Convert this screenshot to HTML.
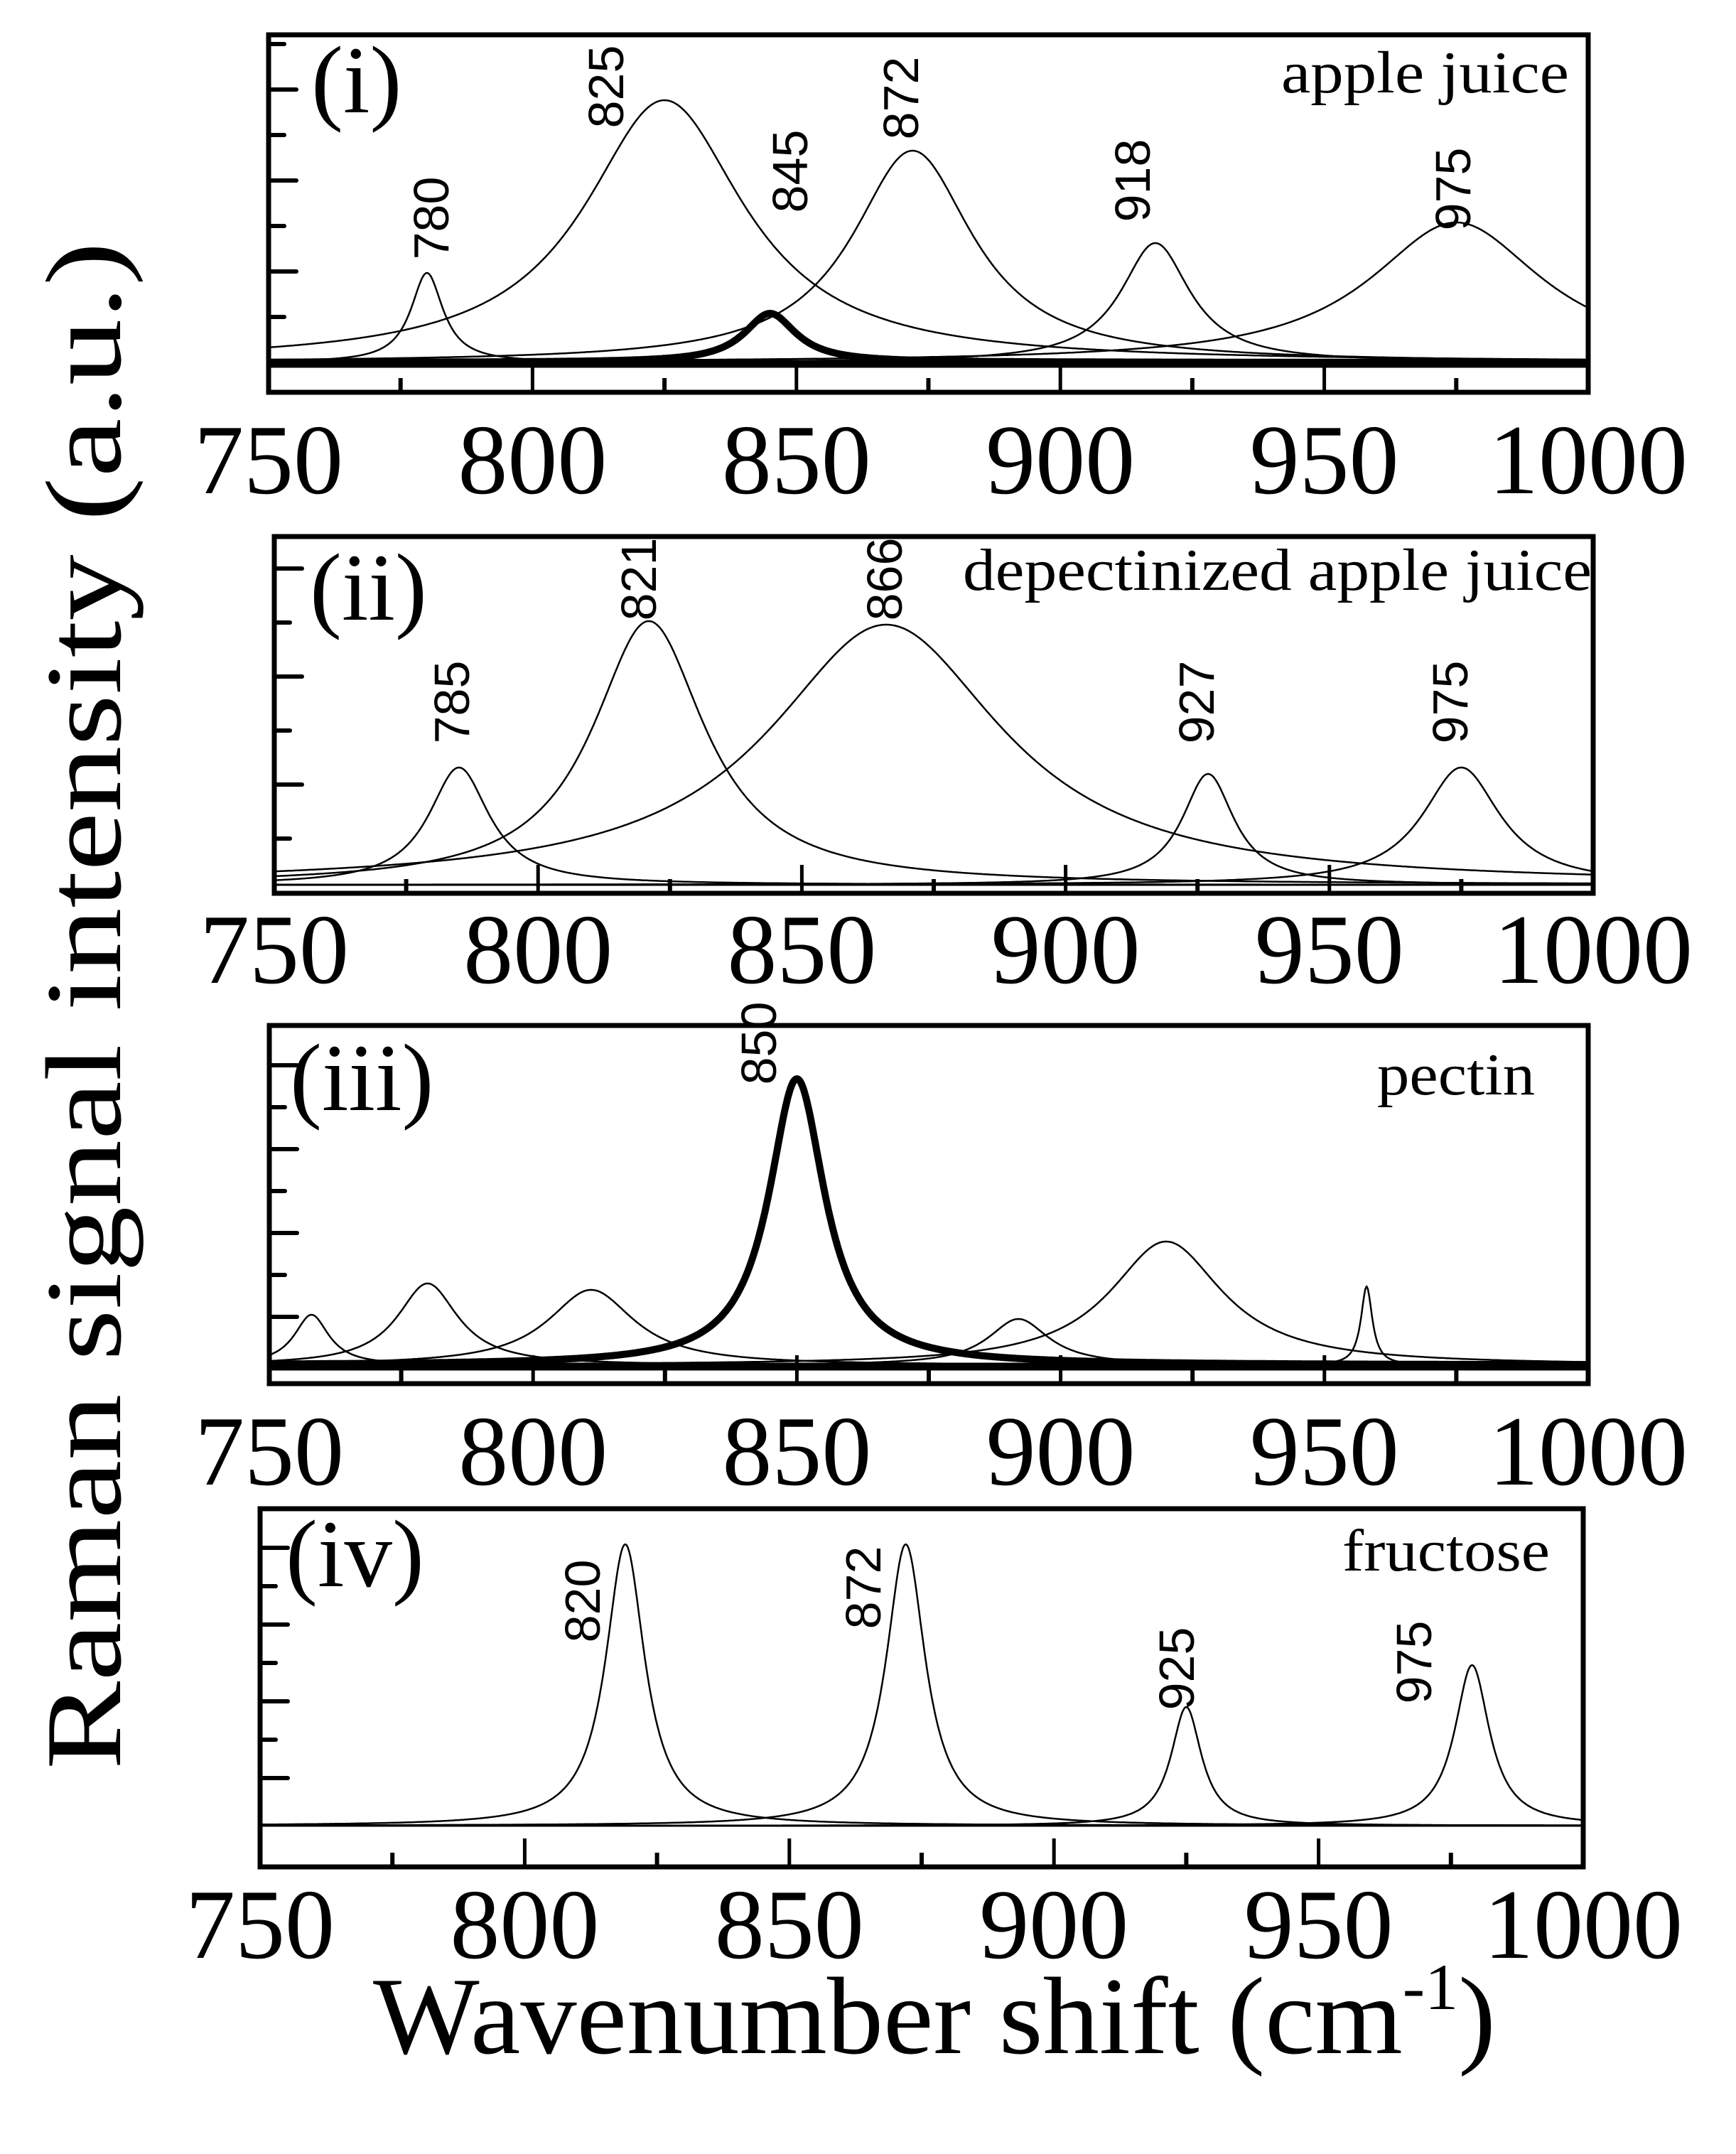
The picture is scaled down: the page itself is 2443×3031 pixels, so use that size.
<!DOCTYPE html>
<html><head><meta charset="utf-8">
<style>html,body{margin:0;padding:0;background:#fff}svg{display:block}</style>
</head><body>
<svg id="s" xmlns="http://www.w3.org/2000/svg" width="2443" height="3031" viewBox="0 0 2443 3031">
<rect width="2443" height="3031" fill="#fff"/>
<g id="g" fill="none" stroke="#000"></g>
<g font-family="'Liberation Serif', serif" fill="#000">
<text x="118" y="1415" font-size="152" text-anchor="middle" transform="rotate(-90 118 1415)" dominant-baseline="central" textLength="2150" lengthAdjust="spacingAndGlyphs">Raman signal intensity (a.u.)</text>
<text x="525" y="2889" font-size="155" textLength="1580" lengthAdjust="spacingAndGlyphs">Wavenumber shift (cm<tspan dy="-62" font-size="92">-1</tspan><tspan dy="62">)</tspan></text>
<text x="438" y="158" font-size="135">(i)</text>
<text x="2208" y="130" font-size="84" text-anchor="end" textLength="405" lengthAdjust="spacingAndGlyphs">apple juice</text>
<text x="436" y="872" font-size="135">(ii)</text>
<text x="2240" y="830" font-size="84" text-anchor="end" textLength="885" lengthAdjust="spacingAndGlyphs">depectinized apple juice</text>
<text x="408" y="1562" font-size="135">(iii)</text>
<text x="2160" y="1540" font-size="84" text-anchor="end" textLength="222" lengthAdjust="spacingAndGlyphs">pectin</text>
<text x="402" y="2232" font-size="135">(iv)</text>
<text x="2181" y="2210" font-size="84" text-anchor="end" textLength="292" lengthAdjust="spacingAndGlyphs">fructose</text>
</g>
<g id="t" font-family="'Liberation Serif', serif" font-size="140" text-anchor="middle" fill="#000"></g>
<g id="p" font-family="'Liberation Sans', sans-serif" font-size="70" text-anchor="middle" fill="#000"></g>
</svg>
<script>
var NS="http://www.w3.org/2000/svg";
var G=document.getElementById('g'),T=document.getElementById('t'),P=document.getElementById('p');
function el(par,tag,a,txt){var e=document.createElementNS(NS,tag);for(var k in a)e.setAttribute(k,a[k]);if(txt!=null)e.textContent=txt;par.appendChild(e);return e;}
var panels=[
 {x0:378,x1:2235,y0:49,y1:552,base:510,thick:true,lab:648,tick0:62,tstep:64,
  peaks:[[780,126,3.7,2.5],[825,369,18.5,2.5],[872,298,14,2.5],[918,168,8,2.5],[975,197,20,2.5],[845,69,6,10]],
  labels:[[780,607,307],[825,853,122],[845,1112,241],[872,1268,138],[918,1594,254],[975,2045,266]]},
 {x0:386,x1:2242,y0:755,y1:1257,base:1245,thick:false,lab:1337,tick0:800,tstep:76,
  peaks:[[785,165,7,2.5],[821,371,13,2.5],[866,366,27,2.5],[927,156,6,2.5],[975,165,9,2.5]],
  labels:[[785,636,988],[821,899,815],[866,1245,815],[927,1684,988],[975,2041,988]]},
 {x0:379,x1:2235,y0:1443,y1:1947,base:1921,thick:true,lab:2043,tick0:1499,tstep:59,
  peaks:[[758,71,4,2.5],[780,115,7,2.5],[811,106,10,2.5],[892,65,7,2.5],[920,174,13,2.5],[958,111,1.3,2.5],[850,403,6.5,10]],
  labels:[[850,1068,1468]]},
 {x0:366,x1:2228,y0:2123,y1:2627,base:2569,thick:false,lab:2709,tick0:2178,tstep:54,
  peaks:[[819,396,4.5,2.5],[872,396,4.5,2.5],[925,167,3.5,2.5],[979,226,4,2.5]],
  labels:[[820,820,2253],[872,1215,2234],[925,1656,2348],[975,1990,2339]]}
];
panels.forEach(function(p){
 var sx=(p.x1-p.x0)/250;
 function X(w){return p.x0+(w-750)*sx;}
 el(G,'rect',{x:p.x0,y:p.y0,width:p.x1-p.x0,height:p.y1-p.y0,'stroke-width':7});
 var i=0;for(var y=p.tick0;y<p.base-15;y+=p.tstep,i++){
   var len=(i%2==(p.tick0<100?0:1))?22:39;
   el(G,'line',{x1:p.x0,y1:y,x2:p.x0+len,y2:y,'stroke-width':6,'stroke-linecap':'round'});
 }
 for(var w=775;w<1000;w+=25){
   var maj=(w%50==0);
   el(G,'line',{x1:X(w),y1:p.y1,x2:X(w),y2:p.y1-(maj?40:20),'stroke-width':maj?5:6});
 }
 for(var w=750;w<=1000;w+=50){el(T,'text',{x:X(w),y:p.lab+46},String(w));}
 if(p.thick) el(G,'line',{x1:p.x0,y1:p.base+2,x2:p.x1,y2:p.base+2,'stroke-width':11});
 else el(G,'line',{x1:p.x0,y1:p.base,x2:p.x1,y2:p.base,'stroke-width':3});
 p.peaks.forEach(function(k){
   var d='';
   for(var w=750;w<=1000;w+=0.25){
     var v=k[1]/(1+Math.pow((w-k[0])/k[2],2));
     d+=(w==750?'M':'L')+X(w).toFixed(1)+' '+(p.base-v).toFixed(1);
   }
   el(G,'path',{d:d,'stroke-width':k[3],'stroke-linejoin':'round'});
 });
 p.labels.forEach(function(l){
   el(P,'text',{x:l[1],y:l[2],transform:'rotate(-90 '+l[1]+' '+l[2]+')','dominant-baseline':'central'},String(l[0]));
 });
});
</script>
</body></html>
